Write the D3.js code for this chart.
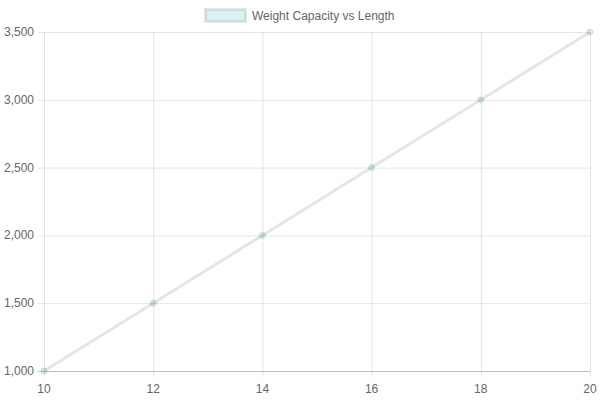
<!DOCTYPE html>
<html>
<head>
<meta charset="utf-8">
<script src="https://cdn.jsdelivr.net/npm/d3@7"></script>
<style>
  html, body { margin: 0; padding: 0; background: #fff; }
  svg { display: block; font-family: "Liberation Sans", Arial, Helvetica, sans-serif; }
</style>
</head>
<body>
<svg id="chart" width="600" height="400"></svg>
<script>
// Data
const lengths = [10, 12, 14, 16, 18, 20];
const capacities = [1000, 1500, 2000, 2500, 3000, 3500];
const xTicks = [10, 12, 14, 16, 18, 20];
const yTicks = [1000, 1500, 2000, 2500, 3000, 3500];
const seriesLabel = 'Weight Capacity vs Length';

const svg = d3.select('#chart');
const margin = { top: 32, right: 10, bottom: 29, left: 44 };
const width = 600 - margin.left - margin.right;
const height = 400 - margin.top - margin.bottom;

const x = d3.scaleLinear().domain([10, 20]).range([0, width]);
const y = d3.scaleLinear().domain([1000, 3500]).range([height, 0]);

const lineColor = 'rgba(0,0,0,0.1)';
const fillColor = 'rgba(75,192,192,0.25)';

const g = svg.append('g').attr('transform', `translate(${margin.left},${margin.top})`);

// Grid lines
g.append('g')
  .selectAll('line')
  .data(xTicks)
  .join('line')
  .attr('x1', (d) => x(d) + 0.5)
  .attr('x2', (d) => x(d) + 0.5)
  .attr('y1', 0)
  .attr('y2', height + 6)
  .attr('stroke', 'rgba(0,0,0,0.1)');

g.append('g')
  .selectAll('line')
  .data(yTicks)
  .join('line')
  .attr('x1', -6)
  .attr('x2', width)
  .attr('y1', (d) => y(d) + 0.5)
  .attr('y2', (d) => y(d) + 0.5)
  .attr('stroke', (d) => (d === 1000 ? 'rgba(0,0,0,0.25)' : 'rgba(0,0,0,0.1)'));

// Tick labels
g.append('g')
  .selectAll('text')
  .data(xTicks)
  .join('text')
  .attr('x', (d) => x(d))
  .attr('y', height + 22)
  .attr('text-anchor', 'middle')
  .attr('font-size', 12)
  .attr('fill', '#666')
  .text((d) => d);

g.append('g')
  .selectAll('text')
  .data(yTicks)
  .join('text')
  .attr('x', -10)
  .attr('y', (d) => y(d) + 4)
  .attr('text-anchor', 'end')
  .attr('font-size', 12)
  .attr('fill', '#666')
  .text((d) => d3.format(',')(d));

// Line
const points = lengths.map((l, i) => ({ l, c: capacities[i] }));
g.append('path')
  .datum(points)
  .attr('fill', 'none')
  .attr('stroke', lineColor)
  .attr('stroke-width', 3)
  .attr('d', d3.line().x((d) => x(d.l)).y((d) => y(d.c)));

// Points
g.append('g')
  .selectAll('circle')
  .data(points)
  .join('circle')
  .attr('cx', (d) => x(d.l))
  .attr('cy', (d) => y(d.c))
  .attr('r', 3)
  .attr('fill', fillColor)
  .attr('stroke', lineColor)
  .attr('stroke-width', 1);

// Legend
const legend = svg.append('g').attr('transform', 'translate(205,9)');
legend.append('rect')
  .attr('x', 0.5)
  .attr('y', 0.5)
  .attr('width', 40)
  .attr('height', 12)
  .attr('fill', 'rgba(75,192,192,0.2)')
  .attr('stroke', lineColor)
  .attr('stroke-width', 3);
legend.append('text')
  .attr('x', 47)
  .attr('y', 11)
  .attr('font-size', 12)
  .attr('fill', '#666')
  .text(seriesLabel);
</script>
</body>
</html>
